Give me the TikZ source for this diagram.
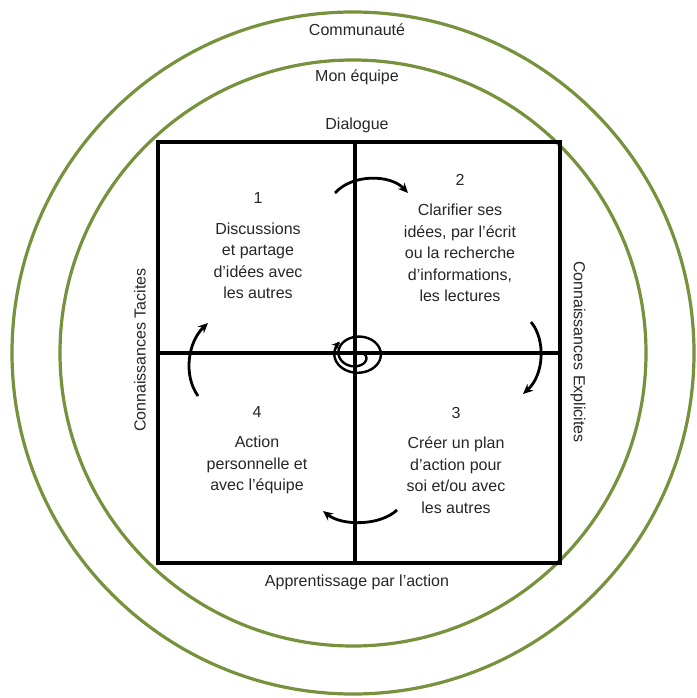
\documentclass[tikz,border=0pt]{standalone}
\usepackage{fontspec}
\setmainfont{Liberation Sans}
\usetikzlibrary{arrows.meta}
\definecolor{ringgreen}{HTML}{76923C}

\begin{document}
\begin{tikzpicture}[x=1pt, y=-1pt, >={Stealth[length=10pt,width=9pt]},
  ring/.style={draw=ringgreen, line width=3.2pt},
  grid/.style={draw=black, line width=3.2pt},
  turn/.style={->, line width=2.8pt},
  lbl/.style={font=\fontsize{16}{21.5}\selectfont, text=black!85},
  quad/.style={lbl, align=center}]
\useasboundingbox (0,0) rectangle (696,698);
% rings
\draw[ring] (353,353) circle (341);
\draw[ring] (353,353) circle (293);
\node[lbl] (communaute) at (357,30) {Communauté};
\node[lbl] (equipe) at (357,77) {Mon équipe};
\node[lbl] (dialogue) at (357,125) {Dialogue};
\node[lbl] (apprentissage) at (357,582) {Apprentissage par l’action};
\node[lbl, rotate=90] (tacites) at (140,350) {Connaissances Tacites};
\node[lbl, rotate=-90] (explicites) at (578,352) {Connaissances Explicites};
% square
\draw[grid] (158,142) rectangle (560,563);
\draw[grid] (355,142) -- (355,563);
\draw[grid] (158,353) -- (560,353);
% quadrants
\node[quad] (q1) at (258,246) {1\\[9pt]Discussions\\et partage\\d’idées avec\\les autres};
\node[quad] (q2) at (460,238) {2\\[9pt]Clarifier ses\\idées, par l’écrit\\ou la recherche\\d’informations,\\les lectures};
\node[quad] (q3) at (456,460) {3\\[9pt]Créer un plan\\d’action pour\\soi et/ou avec\\les autres};
\node[quad] (q4) at (257,450) {4\\[9pt]Action\\personnelle et\\avec l’équipe};
% cycle arrows
\coordinate (a1) at (335,193);
\coordinate (b1) at (408,193);
\coordinate (a2) at (531,322);
\coordinate (b2) at (523,394);
\coordinate (a3) at (397,510);
\coordinate (b3) at (323,511);
\coordinate (a4) at (198,396);
\coordinate (b4) at (208,323);
\draw[turn] (a1) .. controls (352,174) and (390,174) .. (b1);
\draw[turn] (a2) .. controls (546,340) and (544,375) .. (b2);
\draw[turn] (a3) .. controls (380,526) and (342,526) .. (b3);
\draw[turn] (a4) .. controls (183,375) and (188,342) .. (b4);
% spiral
\draw[turn, >={Stealth[length=8pt,width=7.5pt]}, line width=2.4pt]
  plot[domain=0:580, samples=120, smooth]
  ({358+(24-18*exp(-\x/130))*cos(\x)}, {354+0.8*(24-18*exp(-\x/130))*sin(\x)});
\end{tikzpicture}
\end{document}
